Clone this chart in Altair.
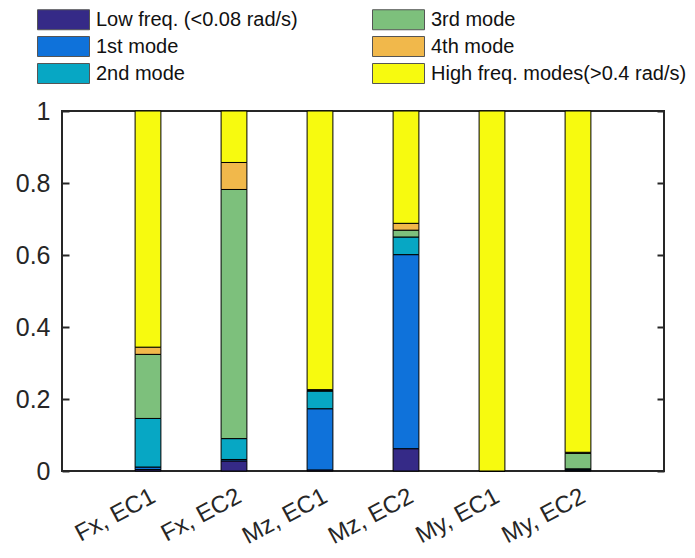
import altair as alt
import pandas as pd

categories = ["Fx, EC1", "Fx, EC2", "Mz, EC1", "Mz, EC2", "My, EC1", "My, EC2"]
modes = ["Low freq. (<0.08 rad/s)", "1st mode", "2nd mode", "3rd mode", "4th mode",
         "High freq. modes(>0.4 rad/s)"]
# fraction of each mode per case (rows = modes, columns = categories)
low_freq = [0.004, 0.028, 0.003, 0.062, 0.000, 0.002]
mode_1 = [0.007, 0.004, 0.170, 0.539, 0.000, 0.003]
mode_2 = [0.135, 0.058, 0.049, 0.049, 0.000, 0.001]
mode_3 = [0.178, 0.692, 0.002, 0.019, 0.000, 0.043]
mode_4 = [0.020, 0.075, 0.002, 0.019, 0.000, 0.003]
high_freq = [0.656, 0.143, 0.774, 0.312, 1.000, 0.948]
colors = ["#352a87", "#0f72da", "#07a7c4", "#7dc07c", "#f1b84b", "#f7fa0f"]
y_ticks = [0, 0.2, 0.4, 0.6, 0.8, 1]

series = [low_freq, mode_1, mode_2, mode_3, mode_4, high_freq]
rows = []
for mi, (m, vals) in enumerate(zip(modes, series)):
    for c, v in zip(categories, vals):
        rows.append({"case": c, "mode": m, "idx": mi, "value": v})
df = pd.DataFrame(rows)

W, H = 602, 360

xscale = alt.Scale(domain=categories, paddingInner=0.7, paddingOuter=0.85)
yscale = alt.Scale(domain=[0, 1], nice=False)
FONT = "Liberation Sans"
TC = "#262626"

bars = alt.Chart(df).mark_bar(stroke="black", strokeWidth=1).encode(
    x=alt.X("case:N", scale=xscale, sort=categories,
            axis=alt.Axis(orient="bottom", title=None, ticks=False, domain=False,
                          labelAngle=-28, labelAlign="right", labelBaseline="top",
                          labelPadding=13, labelOffset=0, labelFontSize=24,
                          labelFont=FONT, labelColor=TC)),
    y=alt.Y("value:Q", scale=yscale, stack="zero",
            axis=alt.Axis(orient="left", title=None, ticks=False, domain=False,
                          values=y_ticks, format="~g", labelPadding=12,
                          labelFontSize=25, labelFont=FONT, labelColor=TC,
                          grid=False)),
    color=alt.Color("mode:N", sort=modes,
                    scale=alt.Scale(domain=modes, range=colors),
                    legend=alt.Legend(title=None, orient="none", legendX=-25,
                                      legendY=-102, columns=2, columnPadding=72,
                                      rowPadding=2,
                                      symbolType="M-2.6,-1H2.6V1H-2.6Z",
                                      symbolSize=400, symbolOffset=16,
                                      symbolStrokeColor="#555555",
                                      symbolStrokeWidth=1, labelFontSize=20,
                                      labelFont=FONT, labelColor="#111111",
                                      labelOffset=22, labelLimit=400, padding=0)),
    order=alt.Order("idx:Q", sort="ascending"),
)


def tick_layer(xorient, yorient):
    return alt.Chart(df).mark_bar(opacity=0).encode(
        x=alt.X("case:N", scale=xscale, sort=categories,
                axis=alt.Axis(orient=xorient, offset=-H, title=None, labels=False,
                              domain=False, ticks=True, tickSize=7, tickWidth=2,
                              tickColor=TC, grid=False)),
        y=alt.Y("sum(value):Q", scale=yscale,
                axis=alt.Axis(orient=yorient, offset=-W, title=None, labels=False,
                              domain=False, ticks=True, tickSize=7, tickWidth=2,
                              tickColor=TC, values=y_ticks, grid=False)),
    )


chart = alt.layer(
    bars,
    tick_layer("top", "right"),
    tick_layer("bottom", "left"),
).resolve_axis(x="independent", y="independent").properties(
    width=W, height=H,
    autosize=alt.AutoSizeParams(type="none"),
    padding={"left": 54, "top": 103, "right": 22, "bottom": 79},
).configure_view(stroke=TC, strokeWidth=2)

chart.save("out.html", embed_options={"renderer": "svg", "actions": False})
